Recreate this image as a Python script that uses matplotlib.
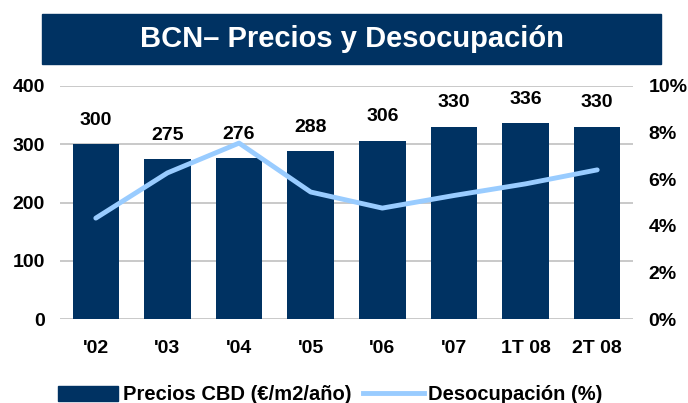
import matplotlib
matplotlib.use('Agg')
import matplotlib.pyplot as plt
from matplotlib.patches import Rectangle, Patch
from matplotlib.lines import Line2D
from matplotlib.ticker import FuncFormatter

# Datos del gráfico
categorias = ["'02", "'03", "'04", "'05", "'06", "'07", "1T 08", "2T 08"]
precios = [300, 275, 276, 288, 306, 330, 336, 330]
desocupacion = [4.33, 6.27, 7.55, 5.45, 4.76, 5.3, 5.8, 6.4]

titulo = 'BCN– Precios y Desocupación'
etiqueta_precios = 'Precios CBD (€/m2/año)'
etiqueta_desoc = 'Desocupación (%)'

azul = '#003262'
celeste = '#99CCFF'
tam = 14

plt.rcParams['font.family'] = ['Liberation Sans', 'DejaVu Sans']

fig = plt.figure(figsize=(6.88, 4.03), dpi=100)

# Caja del título
fig.patches.append(Rectangle((42 / 688, 1 - 64 / 403), (661 - 42) / 688, 50 / 403,
                             transform=fig.transFigure, color=azul, zorder=0))
fig.text(352 / 688, 1 - 39 / 403, titulo, color='white', fontsize=21, fontweight='bold',
         ha='center', va='center')

ax = fig.add_axes([60 / 688, 1 - 319 / 403, (633 - 60) / 688, (319 - 86) / 403])
x = range(len(categorias))
ax.bar(x, precios, width=0.65, color=azul, zorder=2)
ax.set_ylim(0, 400)
ax.set_xlim(-0.5, 7.5)
ax.set_yticks([0, 100, 200, 300, 400])
ax.yaxis.grid(True, color='#C0C0C0', linewidth=1.2, zorder=0)
ax.set_axisbelow(True)
for s in ax.spines.values():
    s.set_visible(False)
ax.tick_params(length=0)
ax.tick_params(axis='y', pad=11, labelsize=tam)
ax.tick_params(axis='x', pad=15, labelsize=tam)
ax.set_xticks(list(x))
ax.set_xticklabels(categorias)
for lbl in ax.get_xticklabels() + ax.get_yticklabels():
    lbl.set_fontweight('bold')

for xi, v in zip(x, precios):
    ax.annotate(str(v), (xi, v), xytext=(0, 11), textcoords='offset points',
                ha='center', va='bottom', fontsize=tam, fontweight='bold')

ax2 = ax.twinx()
ax2.plot(list(x), desocupacion, color=celeste, linewidth=3.5, solid_capstyle='round',
         solid_joinstyle='round', zorder=3)
ax2.set_ylim(0, 10)
ax2.set_yticks([0, 2, 4, 6, 8, 10])
ax2.yaxis.set_major_formatter(FuncFormatter(lambda v, p: f'{v:.0f}%'))
for s in ax2.spines.values():
    s.set_visible(False)
ax2.tick_params(length=0, pad=11, labelsize=tam)
for lbl in ax2.get_yticklabels():
    lbl.set_fontweight('bold')

# Leyenda
handles = [Patch(facecolor=azul, edgecolor=azul),
           Line2D([], [], color=celeste, linewidth=3.5)]
fig.legend(handles, [etiqueta_precios, etiqueta_desoc], loc='center',
           bbox_to_anchor=(330 / 688, 1 - 395 / 403), ncol=2, frameon=False,
           handlelength=3.0, handletextpad=0.2, columnspacing=0.6,
           prop={'weight': 'bold', 'size': 14.5})

fig.savefig('out.png', dpi=100)
